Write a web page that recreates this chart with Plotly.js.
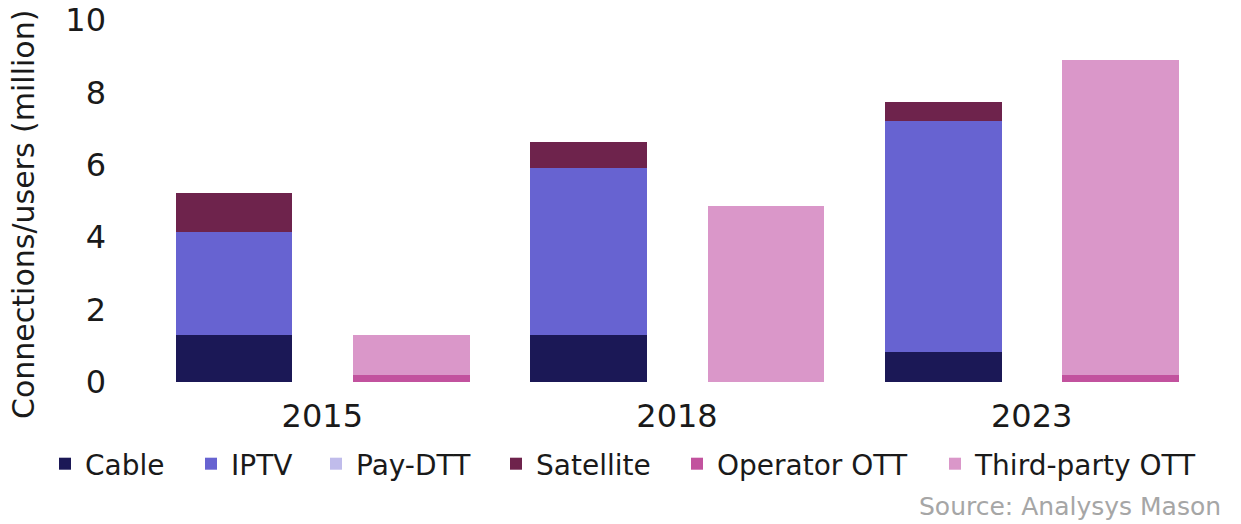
<!DOCTYPE html>
<html>
<head>
<meta charset="utf-8">
<script src="https://cdn.plot.ly/plotly-3.0.1.min.js"></script>
<style>html,body{margin:0;padding:0;background:#fff;}#chart{width:1241px;height:524px;}</style>
</head>
<body>
<div id="chart"></div>
<script>
// ---- data (million connections/users) ----
const categories = ['2015', '2018', '2023'];
const cable = [1.30, 1.30, 0.84];
const iptv = [2.85, 4.60, 6.38];
const payDtt = [0, 0, 0];
const satellite = [1.08, 0.74, 0.51];
const operatorOtt = [0.19, 0, 0.19];
const thirdPartyOtt = [1.11, 4.87, 8.71];
const seriesNames = ['Cable', 'IPTV', 'Pay-DTT', 'Satellite', 'Operator OTT', 'Third-party OTT'];
const yTickVals = [0, 2, 4, 6, 8, 10];
const yTitle = 'Connections/users (million)';
const sourceText = 'Source: Analysys Mason';

// ---- styles ----
const FONT = 'DejaVu Sans, Arial, sans-serif';
const colors = ['#1b1856', '#6763d1', '#c0bceb', '#6e234c', '#c2529e', '#da97c9'];
const barW = 0.329;
const payOffset = -0.414;
const ottOffset = 0.0865;
const legendTextX = [85, 231, 356, 536, 717, 975];

const seriesData = [cable, iptv, payDtt, satellite, operatorOtt, thirdPartyOtt];
const traces = seriesData.map((vals, i) => {
  const isOtt = i >= 4;
  return {
    type: 'bar',
    name: seriesNames[i],
    x: categories,
    y: vals,
    xaxis: isOtt ? 'x2' : 'x',
    yaxis: 'y',
    width: barW,
    offset: isOtt ? ottOffset : payOffset,
    marker: {color: colors[i], line: {width: 0}},
    legend: i === 0 ? 'legend' : 'legend' + (i + 1),
    hoverinfo: 'name+y'
  };
});

const W = 1241, H = 524;
const plotW = W - 145 - 32, plotH = 382 - 20;
const layout = {
  width: W, height: H,
  margin: {l: 145, r: 32, t: 20, b: 142},
  paper_bgcolor: '#ffffff',
  plot_bgcolor: '#ffffff',
  barmode: 'stack',
  font: {family: FONT, color: '#1a1a1a'},
  xaxis: {
    type: 'category', range: [-0.5, 2.5],
    showgrid: false, zeroline: false, showline: false, ticks: '',
    tickfont: {size: 32, family: FONT, color: '#1a1a1a'},
    ticklabelstandoff: 12
  },
  xaxis2: {
    type: 'category', overlaying: 'x', matches: 'x', range: [-0.5, 2.5], visible: false
  },
  yaxis: {
    range: [0, 10], tickvals: yTickVals,
    showgrid: false, zeroline: false, showline: false, ticks: '',
    tickfont: {size: 32, family: FONT, color: '#1a1a1a'},
    ticklabelstandoff: 38
  },
  annotations: [
    {
      text: yTitle, textangle: -90, xref: 'paper', yref: 'paper',
      x: (23 - 145) / plotW, y: (382 - 215) / plotH,
      xanchor: 'center', yanchor: 'middle', showarrow: false,
      font: {size: 30, family: FONT, color: '#1a1a1a'}
    },
    {
      text: sourceText, xref: 'paper', yref: 'paper',
      x: (1223 - 145) / plotW, y: (382 - 506) / plotH,
      xanchor: 'right', yanchor: 'middle', showarrow: false,
      font: {size: 25, family: FONT, color: '#a6a6a6'}
    }
  ],
  showlegend: true
};
seriesNames.forEach((n, i) => {
  const key = i === 0 ? 'legend' : 'legend' + (i + 1);
  layout[key] = {
    orientation: 'h', xref: 'container', yref: 'container',
    x: (legendTextX[i] - 40) / W, y: (H - 464) / H,
    xanchor: 'left', yanchor: 'middle',
    bgcolor: 'rgba(0,0,0,0)', borderwidth: 0,
    font: {size: 28, family: FONT, color: '#1a1a1a'}
  };
});

Plotly.newPlot('chart', traces, layout, {displayModeBar: false, staticPlot: true});
</script>
</body>
</html>
